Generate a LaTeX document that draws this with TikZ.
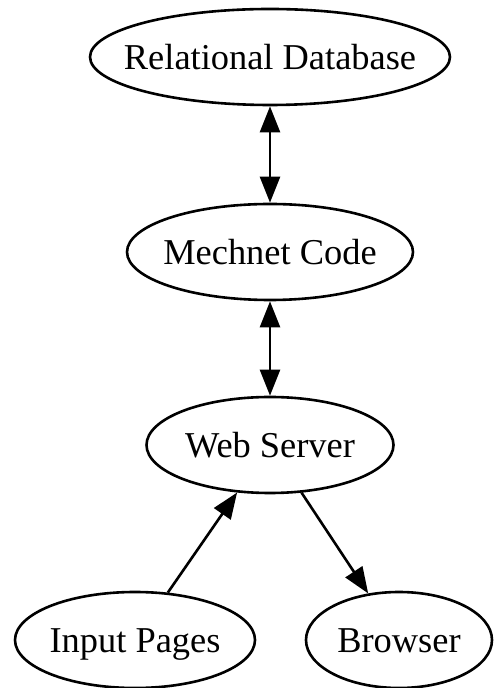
\documentclass[tikz,border=0pt]{standalone}
\usepackage{fontspec}
\setmainfont{Liberation Serif}
\usetikzlibrary{shapes.geometric,arrows.meta}

\begin{document}
\begin{tikzpicture}[x = 1pt, y = 1pt, line width = 2.6pt,
  >={Triangle[length=26pt, width=20pt]},
  part/.style = {draw, ellipse, inner xsep = -40pt, inner ysep = 0pt,
    minimum height = 96pt, text height = 26pt, text depth = 0pt,
    font = \fontsize{36.4}{40}\selectfont}]
\useasboundingbox (0,0) rectangle (495,688); % same size as the reference
\node [part, minimum width = 360pt] (db) at (270,631) {Relational Database};
\node [part, minimum width = 286pt] (mech) at (270,436) {Mechnet Code};
\node [part, minimum width = 247pt] (web) at (270,243) {Web Server};
\node [part, minimum width = 240pt] (input) at (135,48) {Input Pages};
\node [part, minimum width = 186pt] (browser) at (399,48) {Browser};
\draw [<->] (db) -- (mech);
\draw [<->] (mech) -- (web);
\draw [->] (input) -- (web);
\draw [->] (web) -- (browser);
\end{tikzpicture}
\end{document}
